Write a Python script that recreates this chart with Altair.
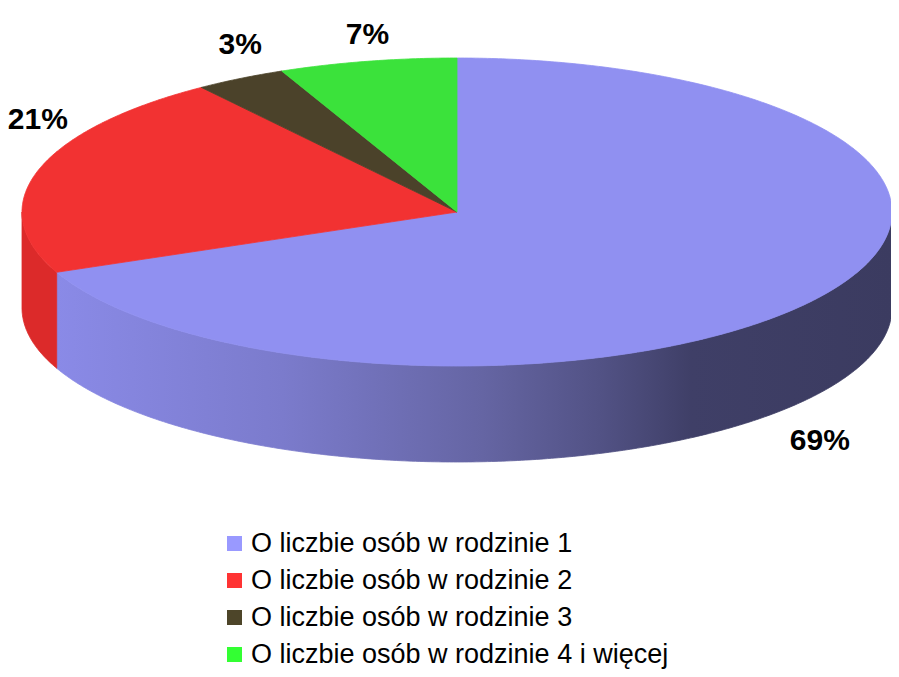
import math
import numpy as np
import pandas as pd
import altair as alt

# ---- data ----
categories = [
    "O liczbie osób w rodzinie 1",
    "O liczbie osób w rodzinie 2",
    "O liczbie osób w rodzinie 3",
    "O liczbie osób w rodzinie 4 i więcej",
]
values = [68.6, 21.4, 3.4, 6.6]
top_colors = ["#9090F1", "#F23232", "#4B422A", "#3BE23B"]
side_colors = ["#8A8AE6", "#DC2A2A", "#3A3320", "#2BB52B"]
legend_colors = ["#9999FF", "#FF3333", "#4D4529", "#33FF33"]

# ---- geometry (plot pixels) ----
W, H = 883, 661
CX, CY = 449, 204
A, B, DEPTH = 435, 154, 96

total = sum(values)
cum = np.concatenate([[0], np.cumsum(values)]) / total * 360.0


def angles(s, e, step=0.5):
    n = max(2, int(math.ceil((e - s) / step)) + 1)
    return np.linspace(s, e, n)


top_rows, wall_rows, label_rows = [], [], []
for i, cat in enumerate(categories):
    s, e = cum[i], cum[i + 1]
    top_rows.append({"cat": cat, "idx": 0, "x": 0.0, "y": 0.0})
    for k, p in enumerate(angles(s, e)):
        r = math.radians(p)
        top_rows.append({"cat": cat, "idx": k + 1, "x": A * math.sin(r), "y": B * math.cos(r)})
    vs, ve = max(s, 90.0), min(e, 270.0)
    if vs < ve:
        ph = angles(vs, ve)
        n = len(ph)
        for k, p in enumerate(ph):
            r = math.radians(p)
            wall_rows.append({"cat": cat, "shade": side_colors[i], "idx": k,
                              "x": A * math.sin(r), "y": B * math.cos(r)})
        for k, p in enumerate(ph[::-1]):
            r = math.radians(p)
            wall_rows.append({"cat": cat, "shade": side_colors[i], "idx": n + k,
                              "x": A * math.sin(r), "y": B * math.cos(r) - DEPTH})
    mid = math.radians((s + e) / 2)
    c = math.cos(mid)
    ly = (B + 25) * math.copysign(math.sqrt(abs(c)), c)
    if c < 0:
        ly -= DEPTH
    label_rows.append({"cat": cat, "x": A * math.sin(mid), "y": ly,
                       "label": f"{round(values[i] / total * 100)}%"})

top_df = pd.DataFrame(top_rows)
wall_df = pd.DataFrame(wall_rows)
label_df = pd.DataFrame(label_rows)
# legend carrier: tiny marks hidden under the pie's centre
legend_df = pd.DataFrame({"cat": categories, "x": [0.0] * 4, "y": [0.0] * 4})

xs = alt.Scale(domain=[-CX, W - CX], nice=False, zero=False)
ys = alt.Scale(domain=[CY - H, CY], nice=False, zero=False)
X = alt.X("x:Q", scale=xs, axis=None)
Y = alt.Y("y:Q", scale=ys, axis=None)

grad = alt.LinearGradient(
    gradient="linear",
    stops=[
        alt.GradientStop(color="#8A8AE7", offset=0),
        alt.GradientStop(color="#7B7BCC", offset=0.27),
        alt.GradientStop(color="#6565A3", offset=0.51),
        alt.GradientStop(color="#525285", offset=0.65),
        alt.GradientStop(color="#3F3F67", offset=0.76),
        alt.GradientStop(color="#3B3B60", offset=1),
    ],
    x1=0, x2=1, y1=0, y2=0,
)

legend_layer = (
    alt.Chart(legend_df)
    .mark_square(size=1)
    .encode(
        x=X, y=Y,
        fill=alt.Fill(
            "cat:N",
            scale=alt.Scale(domain=categories, range=legend_colors),
            legend=alt.Legend(
                title=None, orient="none", legendX=213, legendY=522,
                symbolType="square", symbolSize=225, symbolStrokeWidth=0,
                symbolOpacity=1,
                labelFont="Liberation Sans", labelFontSize=27, labelColor="black",
                labelOffset=3, rowPadding=9, padding=0, labelLimit=0,
            ),
        ),
    )
)

wall_main = (
    alt.Chart(wall_df)
    .transform_filter(alt.datum.cat == categories[0])
    .mark_line(filled=True, interpolate="linear-closed", color=grad, stroke=grad, strokeWidth=0.8)
    .encode(x=X, y=Y, order=alt.Order("idx:Q"), detail="cat:N")
)

wall_other = (
    alt.Chart(wall_df)
    .transform_filter(alt.datum.cat != categories[0])
    .mark_line(filled=True, interpolate="linear-closed", strokeWidth=0.8)
    .encode(x=X, y=Y, order=alt.Order("idx:Q"),
            color=alt.Color("shade:N", scale=None),
            stroke=alt.Stroke("shade:N", scale=None))
)

tops = (
    alt.Chart(top_df)
    .mark_line(filled=True, interpolate="linear-closed", strokeWidth=0.8)
    .encode(
        x=X, y=Y, order=alt.Order("idx:Q"),
        color=alt.Color("cat:N", scale=alt.Scale(domain=categories, range=top_colors), legend=None),
        stroke=alt.Stroke("cat:N", scale=alt.Scale(domain=categories, range=top_colors), legend=None),
    )
)

labels = (
    alt.Chart(label_df)
    .mark_text(font="Liberation Sans", fontWeight="bold", fontSize=30,
               align="center", baseline="middle", color="black")
    .encode(x=X, y=Y, text="label:N")
)

chart = (
    alt.layer(legend_layer, wall_main, wall_other, tops, labels)
    .properties(width=W, height=H, padding=0, autosize=alt.AutoSizeParams(type="none"))
    .configure_view(stroke=None)
)

chart.save("out.html", embed_options={"renderer": "svg", "actions": False})
